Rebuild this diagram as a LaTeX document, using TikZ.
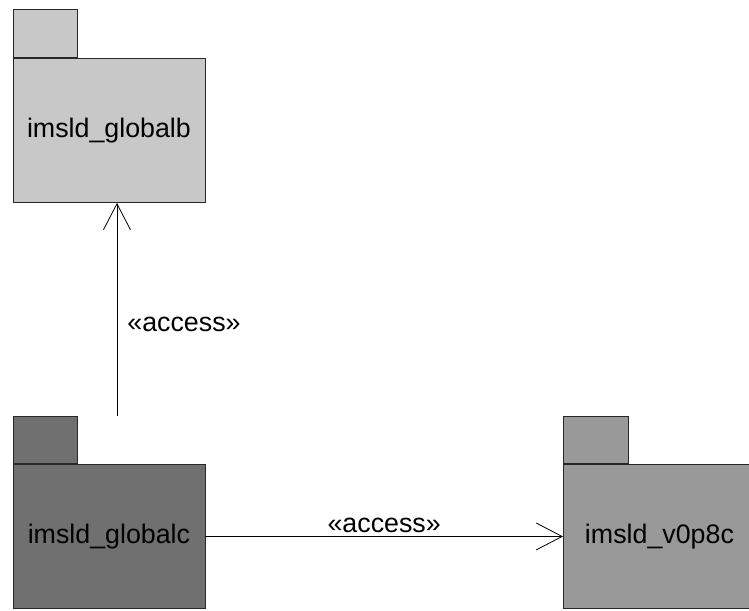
\documentclass[tikz,border=0pt]{standalone}
\usepackage{fontspec}
\setmainfont{Liberation Sans}
\usetikzlibrary{arrows.meta,positioning,fit}
\definecolor{pkgLight}{RGB}{200,200,200}
\definecolor{pkgDark}{RGB}{112,112,112}
\definecolor{pkgMid}{RGB}{153,153,153}
\definecolor{edgeColor}{RGB}{40,40,40}
\newcommand{\pkgfont}{\fontsize{26.8}{30}\selectfont}

\begin{document}
\begin{tikzpicture}[x=1pt, y=-1pt,
    pkg/.style={draw=edgeColor, line width=0.9pt, minimum width=192pt, minimum height=144pt, inner sep=0pt, font=\pkgfont, anchor=north west},
    pkgtab/.style={draw=edgeColor, line width=0.9pt, minimum width=64.5pt, minimum height=47pt, inner sep=0pt, anchor=south west},
    access/.style={-{Straight Barb[length=26pt,width=27pt]}, line width=0.8pt, black},
    lbl/.style={font=\pkgfont, inner sep=0pt}
  ]
  \path[use as bounding box, clip] (0,0) rectangle (749,610);

  % packages
  \node[pkg, fill=pkgLight] (globalb) at (12.5,58) {imsld\_globalb};
  \node[pkgtab, fill=pkgLight, minimum height=48pt] (globalbtab) at (globalb.north west) {};
  \node[pkg, fill=pkgDark] (globalc) at (12.5,464) {imsld\_globalc};
  \node[pkgtab, fill=pkgDark] (globalctab) at (globalc.north west) {};
  \node[pkg, fill=pkgMid] (v0p8c) at (563,464) {imsld\_v0p8c};
  \node[pkgtab, fill=pkgMid] (v0p8ctab) at (v0p8c.north west) {};
  \node[fit=(globalc)(globalctab), inner sep=0pt] (globalcpkg) {};

  % dependencies
  \draw[access] ([xshift=8pt]globalcpkg.north) -- node[lbl, right=10pt, pos=0.43] {«access»} ([xshift=8pt]globalb.south);
  \draw[access] (globalc) -- node[lbl, above=3pt] {«access»} (v0p8c);
\end{tikzpicture}
\end{document}
